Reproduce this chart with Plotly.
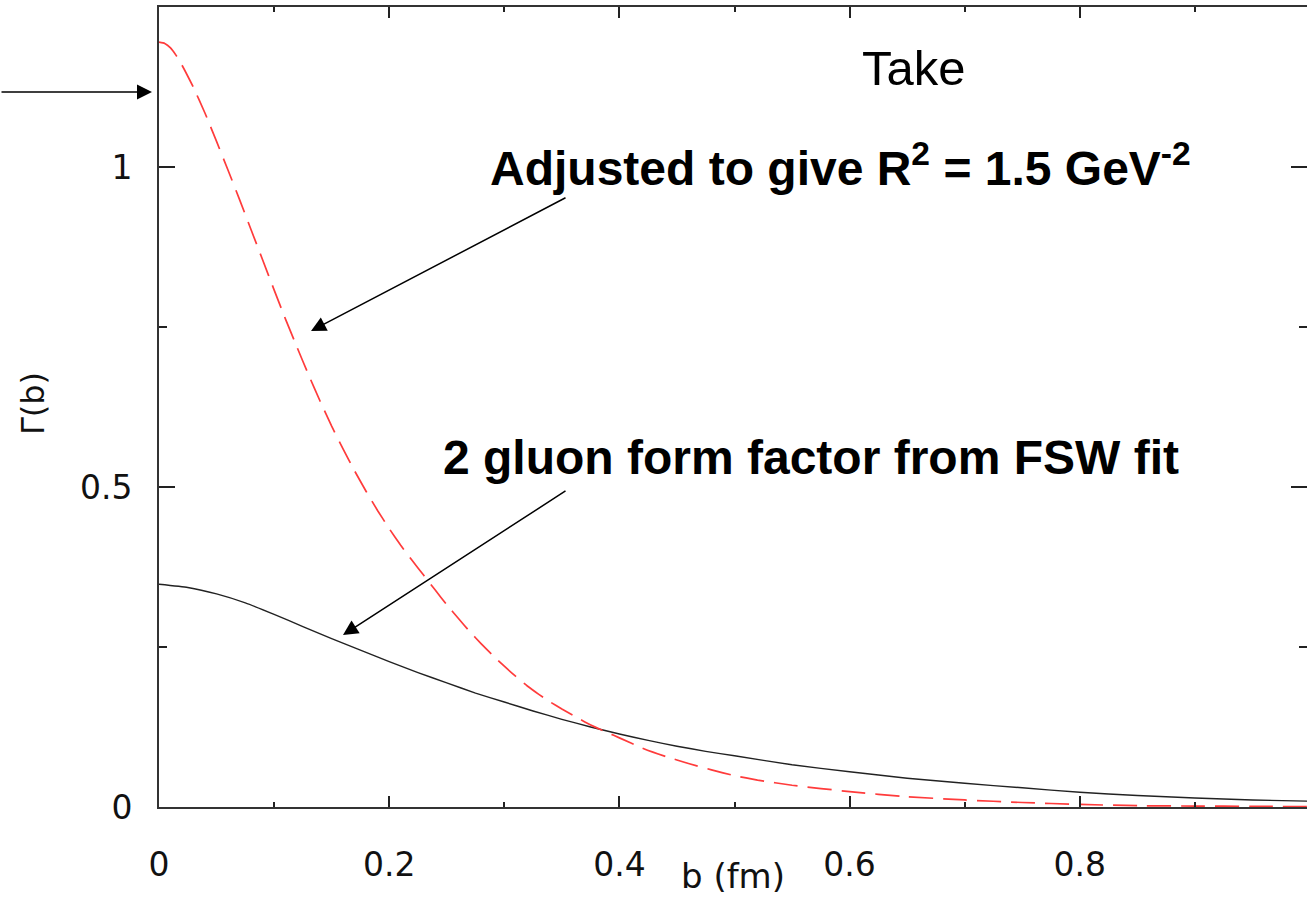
import plotly.graph_objects as go

# Impact-parameter profiles Gamma(b), b in fm
b_black = [0.0, 0.025, 0.05, 0.075, 0.1, 0.125, 0.15, 0.175, 0.2, 0.225, 0.25, 0.275,
           0.3, 0.325, 0.35, 0.375, 0.4, 0.425, 0.45, 0.475, 0.5, 0.55, 0.6, 0.65,
           0.7, 0.75, 0.8, 0.85, 0.9, 0.95, 1.0]
gamma_black = [0.348, 0.343, 0.333, 0.319, 0.301, 0.282, 0.263, 0.245, 0.227, 0.210, 0.194, 0.178,
               0.164, 0.150, 0.137, 0.125, 0.114, 0.104, 0.095, 0.087, 0.080, 0.066, 0.055, 0.045,
               0.037, 0.030, 0.023, 0.018, 0.014, 0.011, 0.009]

b_red = [0.0, 0.005, 0.01, 0.015, 0.02, 0.03, 0.04, 0.05, 0.06, 0.07, 0.08, 0.09, 0.10, 0.11,
         0.12, 0.13, 0.14, 0.15, 0.16, 0.17, 0.18, 0.19, 0.20, 0.21, 0.22, 0.23, 0.24, 0.25,
         0.26, 0.27, 0.28, 0.29, 0.30, 0.31, 0.32, 0.33, 0.34, 0.35, 0.36, 0.37, 0.38, 0.39,
         0.40, 0.42, 0.44, 0.46, 0.48, 0.50, 0.52, 0.55, 0.60, 0.65, 0.70, 0.75, 0.80, 0.85,
         0.90, 0.95, 1.0]
gamma_red = [1.195, 1.193, 1.186, 1.174, 1.159, 1.124, 1.084, 1.040, 0.995, 0.949, 0.902, 0.855,
             0.808, 0.762, 0.718, 0.675, 0.634, 0.595, 0.559, 0.525, 0.493, 0.463, 0.435, 0.409,
             0.385, 0.362, 0.339, 0.316, 0.295, 0.274, 0.255, 0.237, 0.220, 0.204, 0.189, 0.176,
             0.164, 0.153, 0.143, 0.133, 0.124, 0.116, 0.108, 0.092, 0.079, 0.068, 0.058, 0.049,
             0.042, 0.034, 0.024, 0.016, 0.011, 0.007, 0.004, 0.002, 0.0015, 0.001, 0.0005]

x_tickvals = [0, 0.2, 0.4, 0.6, 0.8]
x_ticktext = ["0", "0.2", "0.4", "0.6", "0.8"]
x_minor = [0.1, 0.3, 0.5, 0.7, 0.9]
y_tickvals = [0, 0.5, 1]
y_ticktext = ["0", "0.5", "1"]
y_minor = [0.25, 0.75]

W, H = 1307, 898
ML, MR, MT, MB = 159, 0, 7, 91
PW, PH = W - ML - MR, H - MT - MB


def px(xp):
    return (xp - ML) / PW


def py(yp):
    return (H - MB - yp) / PH


AXC = "#333333"
TICKC = "#222222"
LABEL_FAMILY = "DejaVu Sans, sans-serif"
TEXT_FAMILY = "Liberation Sans, Arial, sans-serif"
TICKFONT = dict(family=LABEL_FAMILY, size=33, color="#111111")

fig = go.Figure()
fig.add_trace(go.Scatter(x=b_black, y=gamma_black, mode="lines",
                         line=dict(color="#222222", width=1.4, shape="spline", smoothing=0.4),
                         showlegend=False, hoverinfo="skip"))
fig.add_trace(go.Scatter(x=b_red, y=gamma_red, mode="lines",
                         line=dict(color="#ff3b3b", width=1.7, dash="24px,10px",
                                   shape="spline", smoothing=0.4),
                         showlegend=False, hoverinfo="skip"))
# empty trace so the right-hand tick axis is laid out
fig.add_trace(go.Scatter(x=[], y=[], yaxis="y2", mode="lines",
                         showlegend=False, hoverinfo="skip"))

axis_common = dict(showgrid=False, zeroline=False, tickcolor=TICKC, tickwidth=1.5)
minor_y = dict(tickvals=y_minor, ticks="inside", ticklen=8, tickcolor=TICKC, tickwidth=1.5)

fig.update_layout(
    width=W, height=H,
    margin=dict(l=ML, r=MR, t=MT, b=MB),
    paper_bgcolor="white", plot_bgcolor="white",
    xaxis=dict(range=[0, 0.9974], tickvals=x_tickvals, ticktext=x_ticktext,
               ticks="inside", ticklen=11, showline=True, linecolor=AXC, linewidth=2,
               mirror="ticks", tickfont=TICKFONT, ticklabelstandoff=27,
               minor=dict(tickvals=x_minor, ticks="inside", ticklen=5,
                          tickcolor=TICKC, tickwidth=1.5),
               **axis_common),
    yaxis=dict(range=[0, 1.25], tickvals=y_tickvals, ticktext=y_ticktext,
               ticks="inside", ticklen=16, showline=True, linecolor=AXC, linewidth=2,
               mirror=False, tickfont=TICKFONT, ticklabelstandoff=18,
               minor=minor_y, **axis_common),
    yaxis2=dict(range=[0, 1.25], overlaying="y", side="right", tickvals=y_tickvals,
                showticklabels=False, ticks="inside", ticklen=16, showline=False,
                minor=minor_y, **axis_common),
)

ann = []
# axis titles
ann.append(dict(text="b (fm)", xref="paper", yref="paper", x=px(733), y=py(898),
                showarrow=False, xanchor="center", yanchor="bottom",
                font=dict(family=LABEL_FAMILY, size=34, color="#111111")))
ann.append(dict(text="Γ(b)", xref="paper", yref="paper", x=px(33), y=py(404),
                showarrow=False, xanchor="center", yanchor="middle", textangle=-90,
                font=dict(family=LABEL_FAMILY, size=32, color="#111111")))
# tick label at b = 1, at the right edge
ann.append(dict(text="1", xref="x", yref="paper", x=1.0, y=py(837),
                showarrow=False, xanchor="center", yanchor="middle", font=TICKFONT))
# text labels
ann.append(dict(text="Take", xref="paper", yref="paper", x=px(860), y=py(68),
                showarrow=False, xanchor="left", yanchor="middle",
                font=dict(family=TEXT_FAMILY, size=49, color="black")))
ann.append(dict(text="<b>Adjusted to give R<sup>2</sup> = 1.5 GeV<sup>-2</sup></b>",
                xref="paper", yref="paper", x=px(488), y=py(165),
                showarrow=False, xanchor="left", yanchor="middle",
                font=dict(family=TEXT_FAMILY, size=48, color="black")))
ann.append(dict(text="<b>2 gluon form factor from FSW fit</b>",
                xref="paper", yref="paper", x=px(441), y=py(457),
                showarrow=False, xanchor="left", yanchor="middle",
                font=dict(family=TEXT_FAMILY, size=48, color="black")))
# arrows
arrow = dict(showarrow=True, text="", arrowhead=2, arrowsize=2.0, arrowwidth=1.5,
             arrowcolor="black", standoff=0, xref="paper", yref="paper")
ann.append(dict(arrow, x=px(152), y=py(92), ax=-152, ay=0))
ann.append(dict(arrow, x=px(311), y=py(331), ax=256, ay=-134))
ann.append(dict(arrow, x=px(343), y=py(635), ax=224, ay=-145))

fig.update_layout(annotations=ann)

fig.write_html("out.html")
